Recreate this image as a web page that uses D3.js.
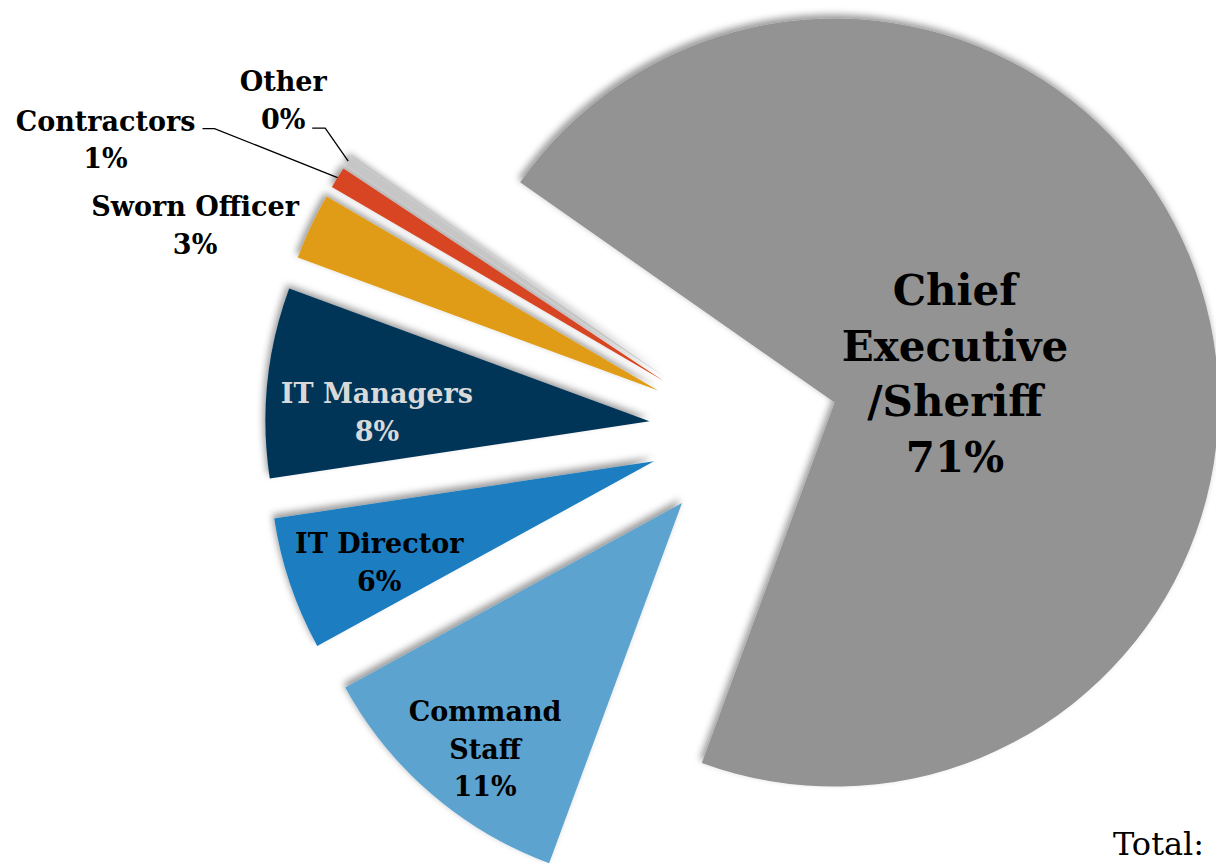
<!DOCTYPE html>
<html>
<head>
<meta charset="utf-8">
<script src="https://cdn.jsdelivr.net/npm/d3@7"></script>
<style>
  body { margin: 0; background: #fff; }
  svg { display: block; }
  text { font-family: "DejaVu Serif", serif; font-weight: bold; }
  text.total { font-weight: normal; }
</style>
</head>
<body>
<svg id="chart" width="1216" height="864"></svg>
<script>
// slices, clockwise from the upper-left edge of the big grey one
const categories = ["Chief Executive /Sheriff", "Command Staff", "IT Director", "IT Managers", "Sworn Officer", "Contractors", "Other"];
const shares = [70.9, 11.4, 5.6, 8.0, 2.8, 0.9, 0.4];
const labelLines = [["Chief", "Executive", "/Sheriff"], ["Command", "Staff"], ["IT Director"], ["IT Managers"], ["Sworn Officer"], ["Contractors"], ["Other"]];
const colors = ["#939393", "#5ba3cf", "#1a7dc0", "#003458", "#e09c14", "#d84520", "#c6c6c6"];
const totalLabel = "Total:";

const W = 1216, H = 864;
const cx = 744, cy = 431, R = 384, explode = 95;
const startDeg = -55;

// label placement: inside labels sit along the bisector, outside ones hang off a leader
const layout = [
  {r: 124, dx: 2, dy: 8, size: 42, lh: 55.5, fill: "#000"},
  {r: 300, dx: -1, dy: 19, size: 27, lh: 37.5, fill: "#000"},
  {r: 290, dx: 0, dy: 8, size: 27, lh: 37.5, fill: "#000"},
  {r: 274, dx: 0, dy: 19, size: 27, lh: 37.5, fill: "#d9d9d9"},
  {r: 480, dx: -29, dy: 40, size: 27, lh: 37.5, fill: "#000"},
  {leader: true, text: [-232, -38], elbow: [-123, -49], tail: 12, size: 27, lh: 37.5, fill: "#000"},
  {leader: true, text: [-65, -61], elbow: [-23, -33], tail: 13, size: 27, lh: 37.5, fill: "#000"}
];

const total = d3.sum(shares);
const pct = d3.format(".0%");

const svg = d3.select("#chart");

const defs = svg.append("defs");
const f = defs.append("filter").attr("id", "shadow")
  .attr("x", "-20%").attr("y", "-20%").attr("width", "140%").attr("height", "140%");
f.append("feDropShadow")
  .attr("dx", -2).attr("dy", -4).attr("stdDeviation", 3.5)
  .attr("flood-color", "#000").attr("flood-opacity", 0.4);

const pie = d3.pie().sort(null).value(d => d)
  .startAngle(startDeg * Math.PI / 180)
  .endAngle((startDeg + 360) * Math.PI / 180);
const arcs = pie(shares);
const arc = d3.arc().innerRadius(0).outerRadius(R);

const g = svg.append("g").attr("transform", `translate(${cx},${cy})`);

// offsets of each exploded slice
const tips = arcs.map(a => {
  const mid = (a.startAngle + a.endAngle) / 2;
  return {mid: mid, x: explode * Math.sin(mid), y: -explode * Math.cos(mid)};
});

g.selectAll("path.slice")
  .data(arcs)
  .join("path")
  .attr("class", "slice")
  .attr("transform", (d, i) => `translate(${tips[i].x},${tips[i].y})`)
  .attr("d", arc)
  .attr("fill", (d, i) => colors[i])
  .attr("filter", "url(#shadow)");

const labels = g.append("g");

arcs.forEach((a, i) => {
  const t = tips[i];
  const L = layout[i];
  const lines = labelLines[i].concat([pct(a.data / total)]);
  let lx, ly;
  if (L.leader) {
    const ox = t.x + R * Math.sin(t.mid), oy = t.y - R * Math.cos(t.mid);
    const ex = ox + L.elbow[0], ey = oy + L.elbow[1];
    labels.append("path")
      .attr("d", `M${ox},${oy}L${ex},${ey}L${ex - L.tail},${ey}`)
      .attr("fill", "none").attr("stroke", "#000").attr("stroke-width", 1.3);
    lx = ox + L.text[0];
    ly = oy + L.text[1];
  } else {
    lx = t.x + L.r * Math.sin(t.mid) + L.dx;
    ly = t.y - L.r * Math.cos(t.mid) + L.dy;
  }
  const txt = labels.append("text")
    .attr("text-anchor", "middle")
    .attr("font-size", L.size)
    .attr("fill", L.fill);
  const y0 = ly - (lines.length - 1) * L.lh / 2;
  lines.forEach((s, k) => {
    txt.append("tspan")
      .attr("x", lx)
      .attr("y", y0 + k * L.lh)
      .attr("dy", "0.36em")
      .text(s);
  });
});

svg.append("text")
  .attr("class", "total")
  .attr("x", 1113).attr("y", 855)
  .attr("font-size", 32)
  .attr("fill", "#000")
  .text(totalLabel);
</script>
</body>
</html>
